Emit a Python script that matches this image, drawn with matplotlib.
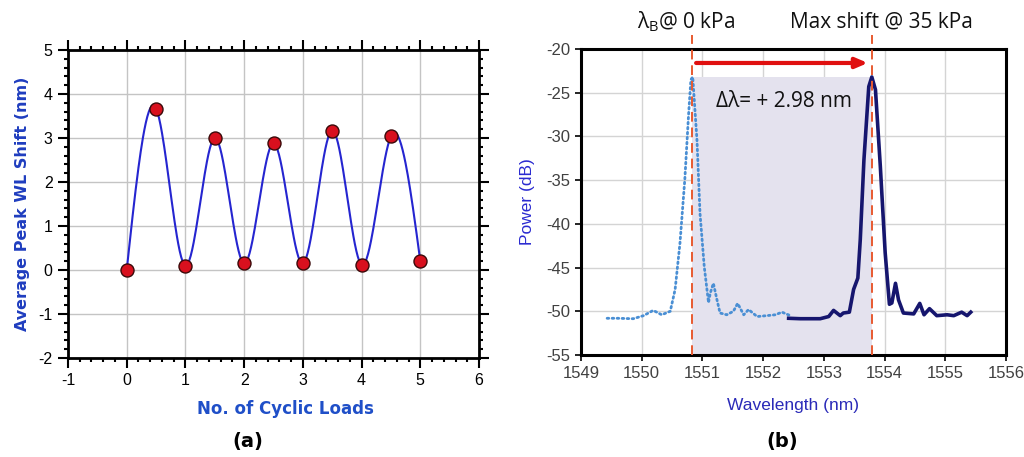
import numpy as np
import matplotlib
matplotlib.use("Agg")
import matplotlib.pyplot as plt
from matplotlib.ticker import MultipleLocator

# panel (a): cyclic loading
cycles = [0, 0.5, 1, 1.5, 2, 2.5, 3, 3.5, 4, 4.5, 5]
wl_shift = [0.0, 3.67, 0.10, 3.0, 0.15, 2.88, 0.15, 3.17, 0.12, 3.04, 0.20]

# panel (b): spectra
wl_0kpa = [1549.43, 1549.60, 1549.86, 1550.03, 1550.19, 1550.33, 1550.47, 1550.55,
           1550.63, 1550.71, 1550.77, 1550.81, 1550.84, 1550.91, 1550.96, 1551.03,
           1551.10, 1551.13, 1551.18, 1551.24, 1551.29, 1551.40, 1551.51, 1551.58,
           1551.68, 1551.76, 1551.90, 1552.06, 1552.20, 1552.31, 1552.45]
pw_0kpa = [-50.8, -50.8, -50.85, -50.5, -49.9, -50.4, -50.0, -47.5,
           -42.2, -34.9, -27.7, -23.5, -23.2, -30.4, -38.8, -44.9,
           -49.0, -47.9, -46.8, -48.7, -50.2, -50.4, -50.0, -49.1,
           -50.4, -49.8, -50.6, -50.5, -50.4, -50.1, -50.5]

wl_35kpa = [1552.42, 1552.61, 1552.94, 1553.08, 1553.16, 1553.27, 1553.32, 1553.42,
            1553.49, 1553.56, 1553.60, 1553.66, 1553.74, 1553.79, 1553.85, 1553.93,
            1554.01, 1554.08, 1554.12, 1554.18, 1554.23, 1554.31, 1554.48, 1554.58,
            1554.65, 1554.74, 1554.86, 1555.03, 1555.14, 1555.27, 1555.36, 1555.42]
pw_35kpa = [-50.8, -50.85, -50.85, -50.6, -49.9, -50.5, -50.2, -50.1,
            -47.5, -46.2, -41.8, -32.7, -24.3, -23.2, -24.65, -33.4,
            -43.3, -49.2, -49.05, -46.8, -48.7, -50.2, -50.3, -49.1,
            -50.4, -49.7, -50.5, -50.4, -50.5, -50.1, -50.5, -50.1]

peak_0 = 1550.82
peak_35 = 1553.79
peak_power = -23.2


def natural_spline(x, y, n=400):
    # smooth line through the points, like a spreadsheet "smoothed line"
    x = np.asarray(x, float)
    y = np.asarray(y, float)
    k = len(x)
    h = np.diff(x)
    A = np.zeros((k, k))
    b = np.zeros(k)
    A[0, 0] = A[-1, -1] = 1
    for i in range(1, k - 1):
        A[i, i - 1] = h[i - 1]
        A[i, i] = 2 * (h[i - 1] + h[i])
        A[i, i + 1] = h[i]
        b[i] = 3 * ((y[i + 1] - y[i]) / h[i] - (y[i] - y[i - 1]) / h[i - 1])
    c = np.linalg.solve(A, b)
    xs = np.linspace(x[0], x[-1], n)
    idx = np.clip(np.searchsorted(x, xs) - 1, 0, k - 2)
    dx = xs - x[idx]
    bb = (y[1:] - y[:-1]) / h - h * (2 * c[:-1] + c[1:]) / 3
    dd = (c[1:] - c[:-1]) / (3 * h)
    ys = y[idx] + bb[idx] * dx + c[idx] * dx ** 2 + dd[idx] * dx ** 3
    return xs, ys


plt.rcParams['mathtext.fontset'] = 'custom'
plt.rcParams['mathtext.rm'] = 'Open Sans'
plt.rcParams['axes.unicode_minus'] = False

fig = plt.figure(figsize=(10.24, 4.57), dpi=100)

# ---------------- (a)
ax1 = fig.add_axes([0.0664, 0.2166, 0.4014, 0.674])
xs, ys = natural_spline(cycles, wl_shift)
ax1.plot(xs, ys, color="#2525d0", lw=1.5, zorder=3)
ax1.scatter(cycles, wl_shift, s=88, color="#d8101e", edgecolor="#3a0a0a", lw=1.0, zorder=4)
ax1.set_xlim(-1, 6)
ax1.set_ylim(-2, 5)
ax1.xaxis.set_major_locator(MultipleLocator(1))
ax1.yaxis.set_major_locator(MultipleLocator(1))
ax1.xaxis.set_minor_locator(MultipleLocator(0.2))
ax1.yaxis.set_minor_locator(MultipleLocator(0.2))
ax1.grid(True, which="major", color="#c4c4c4", lw=1.0)
ax1.set_axisbelow(True)
for s in ax1.spines.values():
    s.set_linewidth(2.0)
ax1.tick_params(which="both", direction="out", top=True, right=True,
                labeltop=False, labelright=False, width=1.5)
ax1.tick_params(which="major", length=7, labelsize=11.5, pad=4)
ax1.tick_params(which="minor", length=3)
for lab in ax1.get_xticklabels() + ax1.get_yticklabels():
    lab.set_family("Liberation Sans")
ax1.set_xlabel("No. of Cyclic Loads", fontsize=12, fontweight="bold",
               color="#1f4fc8", family="DejaVu Sans")
ax1.xaxis.set_label_coords(0.53, -0.135)
ax1.set_ylabel("Average Peak WL Shift (nm)", fontsize=11.5, fontweight="bold",
               color="#1f3dbf", family="DejaVu Sans", labelpad=6)
fig.text(0.242, 0.035, "(a)", fontsize=14, fontweight="bold", ha="center",
         va="center", family="DejaVu Sans")

# ---------------- (b)
ax2 = fig.add_axes([0.5674, 0.2232, 0.415, 0.6696])
ax2.set_xlim(1549, 1556)
ax2.set_ylim(-55, -20)
ax2.xaxis.set_major_locator(MultipleLocator(1))
ax2.yaxis.set_major_locator(MultipleLocator(5))
ax2.grid(True, color="#d4d4d4", lw=1.0)
ax2.set_axisbelow(True)
ax2.fill_between([peak_0, peak_35], -55, peak_power, color="#e4e2ee", lw=0, zorder=1)
ax2.plot(wl_0kpa, pw_0kpa, color="#4a8fd4", lw=2.0, ls=(0, (0.6, 1.2)),
         dash_capstyle="round", zorder=3)
ax2.plot(wl_35kpa, pw_35kpa, color="#16166e", lw=2.6, zorder=3)
for xv in (peak_0, peak_35):
    ax2.plot([xv, xv], [-55, -18.4], color="#e85a30", lw=1.4, ls=(0, (5, 3)),
             clip_on=False, zorder=4)
ax2.annotate("", xy=(peak_35 - 0.02, -21.6), xytext=(peak_0 + 0.03, -21.6),
             arrowprops=dict(arrowstyle="-|>,head_length=0.7,head_width=0.3",
                             color="#e01010", lw=3), zorder=5)
ax2.text(1551.23, -26.0, "Δλ= + 2.98 nm", fontsize=15, family="Open Sans",
         va="center", ha="left", color="#111111")
fig.text(0.670, 0.952, r"λ$_{\mathrm{B}}$@ 0 kPa", fontsize=15, family="Open Sans",
         ha="center", va="center", color="#111111")
fig.text(0.861, 0.952, "Max shift @ 35 kPa", fontsize=15, family="Open Sans",
         ha="center", va="center", color="#111111")
for s in ax2.spines.values():
    s.set_linewidth(2.2)
ax2.tick_params(which="major", direction="out", length=4, width=1.2,
                labelsize=12, labelcolor="#404040", pad=4)
for lab in ax2.get_xticklabels() + ax2.get_yticklabels():
    lab.set_family("Liberation Sans")
ax2.set_xlabel("Wavelength (nm)", fontsize=12.5, color="#2a2ab8",
               family="Liberation Sans", labelpad=12)
ax2.set_ylabel("Power (dB)", fontsize=12.5, color="#2a2ad0",
               family="Liberation Sans", labelpad=8)
fig.text(0.764, 0.035, "(b)", fontsize=14, fontweight="bold", ha="center",
         va="center", family="DejaVu Sans")

fig.savefig("out.png", dpi=100)
